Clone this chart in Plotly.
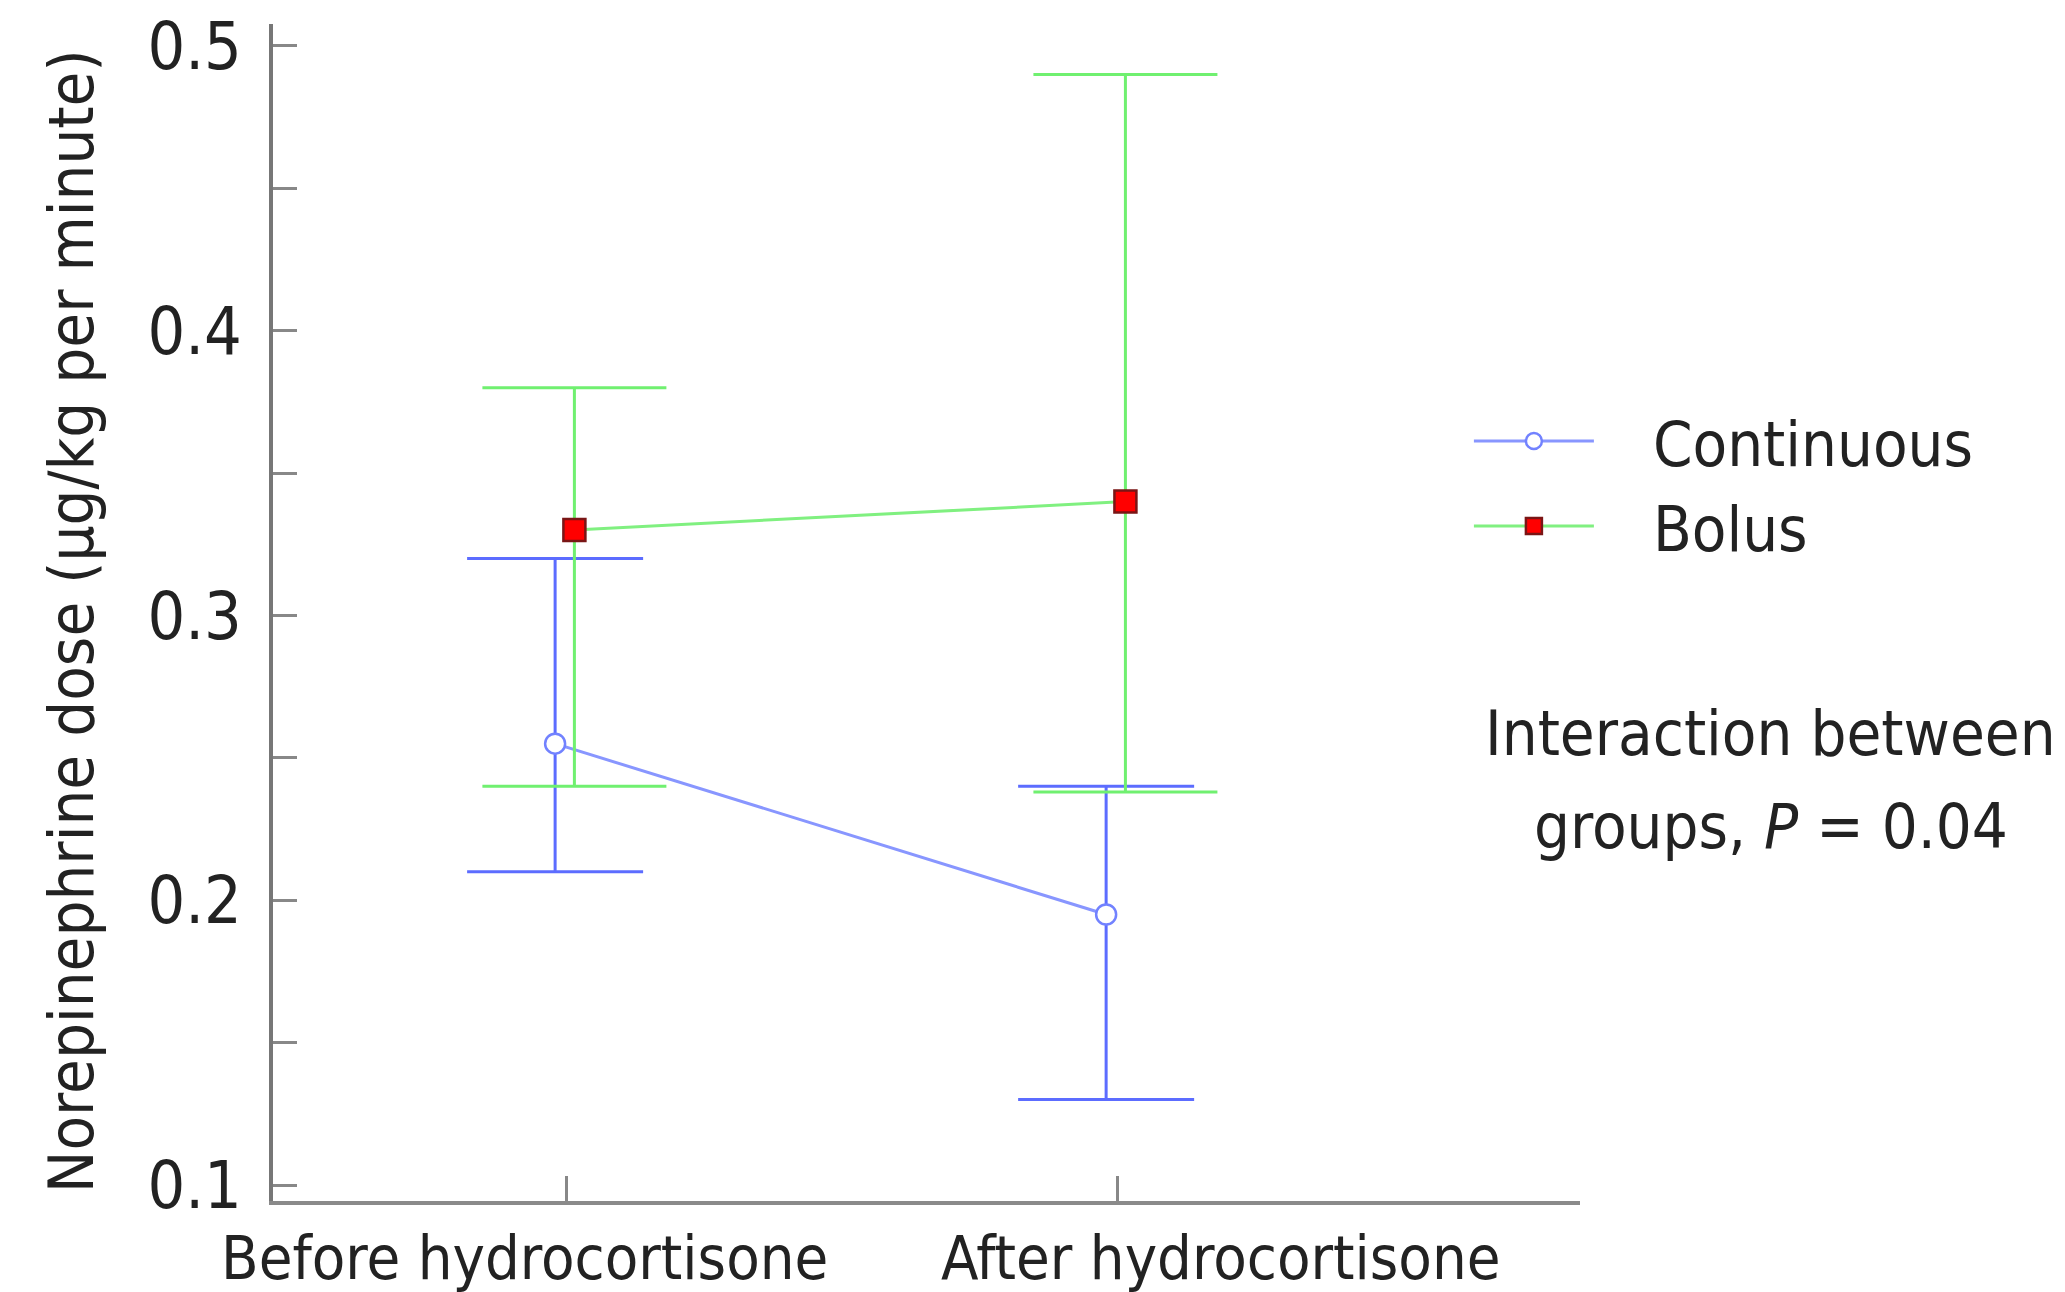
import plotly.graph_objects as go

categories = ["Before hydrocortisone", "After hydrocortisone"]
series_names = ["Continuous", "Bolus"]

continuous_mean = [0.255, 0.195]
continuous_upper = [0.32, 0.24]
continuous_lower = [0.21, 0.13]

bolus_mean = [0.33, 0.34]
bolus_upper = [0.38, 0.49]
bolus_lower = [0.24, 0.238]

y_tick_vals = [0.1, 0.15, 0.2, 0.25, 0.3, 0.35, 0.4, 0.45, 0.5]
y_tick_text = ["0.1", "", "0.2", "", "0.3", "", "0.4", "", "0.5"]

FONT = "DejaVu Sans Condensed, DejaVu Sans, Verdana, sans-serif"
TXT = "#222222"

cont_offset = -0.02
bolus_offset = 0.015
label_shift_px = [-42, 103]
PAD = "\u00a0\u00a0\u00a0"

def xpos(offset):
    return [i + offset for i in range(len(categories))]

fig = go.Figure()

fig.add_trace(go.Scatter(
    x=xpos(cont_offset), y=continuous_mean, name=PAD + series_names[0],
    mode="lines+markers",
    line=dict(color="#8896ff", width=3),
    marker=dict(symbol="circle", size=20, color="white",
                line=dict(color="#7282ff", width=2.5)),
    error_y=dict(type="data", symmetric=False,
                 array=[u - m for u, m in zip(continuous_upper, continuous_mean)],
                 arrayminus=[m - l for m, l in zip(continuous_mean, continuous_lower)],
                 color="#5c6cff", thickness=3, width=88),
))

fig.add_trace(go.Scatter(
    x=xpos(bolus_offset), y=bolus_mean, name=PAD + series_names[1],
    mode="lines+markers",
    line=dict(color="#80f080", width=3),
    marker=dict(symbol="square", size=22, color="#ff0000",
                line=dict(color="#7a1515", width=2.5)),
    error_y=dict(type="data", symmetric=False,
                 array=[u - m for u, m in zip(bolus_upper, bolus_mean)],
                 arrayminus=[m - l for m, l in zip(bolus_mean, bolus_lower)],
                 color="#70f070", thickness=3, width=92),
))

annotations = [
    dict(text="Norepinephrine dose (µg/kg per minute)", textangle=-90,
         xref="paper", yref="paper", x=-0.1538, y=0.4928,
         xanchor="center", yanchor="middle", showarrow=False,
         font=dict(size=63, family=FONT, color=TXT)),
    dict(text="Interaction between",
         xref="paper", yref="paper", x=1.146, y=0.3968,
         xanchor="center", yanchor="middle", showarrow=False,
         font=dict(size=63, family=FONT, color=TXT)),
    dict(text="groups, <i>P</i> = 0.04",
         xref="paper", yref="paper", x=1.146, y=0.3186,
         xanchor="center", yanchor="middle", showarrow=False,
         font=dict(size=63, family=FONT, color=TXT)),
]
for i, (cat, shift) in enumerate(zip(categories, label_shift_px)):
    annotations.append(dict(
        text=cat, xref="x", yref="paper", x=i, y=-0.0476, xshift=shift,
        xanchor="center", yanchor="middle", showarrow=False, borderpad=0,
        font=dict(size=61, family=FONT, color=TXT)))

fig.update_layout(
    width=2065, height=1292,
    margin=dict(l=273, r=485, t=24, b=91, autoexpand=False),
    paper_bgcolor="white", plot_bgcolor="white",
    font=dict(family=FONT, size=62, color=TXT),
    showlegend=True,
    legend=dict(x=0.915, y=0.686, xanchor="left", yanchor="top",
                bgcolor="rgba(0,0,0,0)", font=dict(size=63, family=FONT, color=TXT),
                itemwidth=120, tracegroupgap=0),
    xaxis=dict(range=[-0.532, 1.84], tickvals=[0, 1], ticktext=["", ""],
               tickangle=0, automargin=False,
               showgrid=False, zeroline=False,
               showline=True, linecolor="#8a8a8a", linewidth=4,
               ticks="inside", ticklen=25, tickwidth=3, tickcolor="#888888"),
    yaxis=dict(range=[0.0944, 0.5077], tickvals=y_tick_vals, ticktext=y_tick_text,
               automargin=False,
               showgrid=False, zeroline=False,
               showline=True, linecolor="#777777", linewidth=4,
               ticks="inside", ticklen=24, tickwidth=3, tickcolor="#888888",
               ticklabelstandoff=14,
               tickfont=dict(size=66, family=FONT, color=TXT)),
    annotations=annotations,
)

fig.write_html("out.html")
